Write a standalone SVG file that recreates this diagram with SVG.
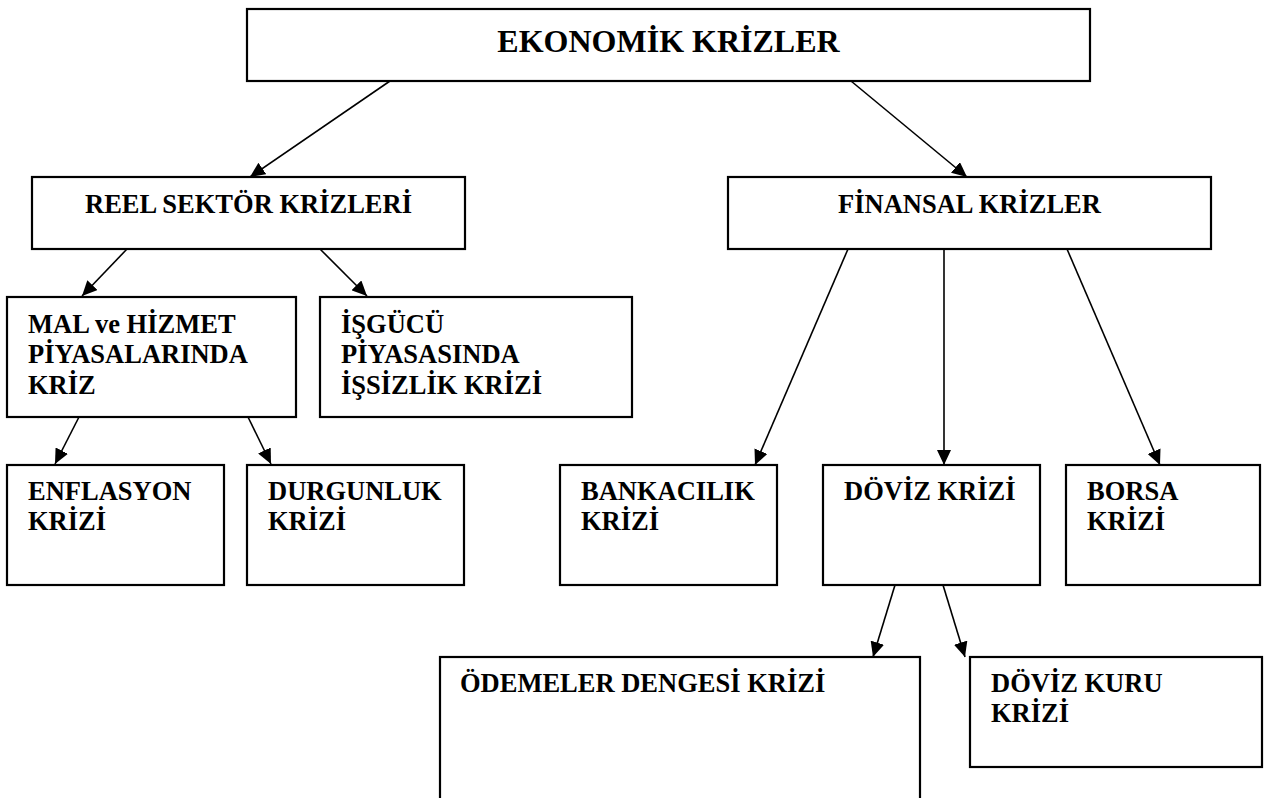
<svg xmlns="http://www.w3.org/2000/svg" width="1266" height="798" viewBox="0 0 1266 798">
<style>
.box{fill:#fff;stroke:#000;stroke-width:2.2}
.t{font-family:"Liberation Serif","Times New Roman",serif;font-weight:bold;font-size:26.5px;fill:#000}
.title{font-size:32px}
.c{fill:none;stroke:#000;stroke-width:1.6}
</style>
<defs>
<marker id="ah" markerUnits="userSpaceOnUse" markerWidth="16" markerHeight="14" refX="15" refY="7" orient="auto">
<path d="M0,0 L15,7 L0,14 z" fill="#000"/>
</marker>
</defs>
<rect width="1266" height="798" fill="#fff"/>
<g id="connectors">
<line class="c" x1="390" y1="81" x2="250" y2="177" marker-end="url(#ah)"/>
<line class="c" x1="851" y1="81" x2="967" y2="177" marker-end="url(#ah)"/>
<line class="c" x1="127" y1="249" x2="82" y2="296" marker-end="url(#ah)"/>
<line class="c" x1="320" y1="249" x2="367" y2="296" marker-end="url(#ah)"/>
<line class="c" x1="79" y1="417" x2="55" y2="464" marker-end="url(#ah)"/>
<line class="c" x1="248" y1="417" x2="271" y2="464" marker-end="url(#ah)"/>
<line class="c" x1="848" y1="249" x2="755" y2="465" marker-end="url(#ah)"/>
<line class="c" x1="944" y1="249" x2="944" y2="465" marker-end="url(#ah)"/>
<line class="c" x1="1067" y1="249" x2="1160" y2="465" marker-end="url(#ah)"/>
<line class="c" x1="895" y1="585" x2="873" y2="657" marker-end="url(#ah)"/>
<line class="c" x1="943" y1="585" x2="965" y2="657" marker-end="url(#ah)"/>
</g>
<g id="n-ekonomik">
<rect class="box" x="247" y="9" width="843" height="72"/>
<text class="t title" x="668.5" y="52" text-anchor="middle">EKONOMİK KRİZLER</text>
</g>
<g id="n-reel">
<rect class="box" x="32" y="177" width="433" height="72"/>
<text class="t" x="248.5" y="213" text-anchor="middle">REEL SEKTÖR KRİZLERİ</text>
</g>
<g id="n-finansal">
<rect class="box" x="728" y="177" width="483" height="72"/>
<text class="t" x="969.5" y="213" text-anchor="middle">FİNANSAL KRİZLER</text>
</g>
<g id="n-mal">
<rect class="box" x="7" y="297" width="289" height="120"/>
<text class="t" x="28" y="332.5">MAL ve HİZMET</text>
<text class="t" x="28" y="363">PİYASALARINDA</text>
<text class="t" x="28" y="393.5">KRİZ</text>
</g>
<g id="n-isgucu">
<rect class="box" x="320" y="297" width="312" height="120"/>
<text class="t" x="341" y="332.5">İŞGÜCÜ</text>
<text class="t" x="341" y="363">PİYASASINDA</text>
<text class="t" x="341" y="393.5">İŞSİZLİK KRİZİ</text>
</g>
<g id="n-enflasyon">
<rect class="box" x="7" y="465" width="217" height="120"/>
<text class="t" x="28" y="500">ENFLASYON</text>
<text class="t" x="28" y="530">KRİZİ</text>
</g>
<g id="n-durgunluk">
<rect class="box" x="247" y="465" width="217" height="120"/>
<text class="t" x="268" y="500">DURGUNLUK</text>
<text class="t" x="268" y="530">KRİZİ</text>
</g>
<g id="n-bankacilik">
<rect class="box" x="560" y="465" width="217" height="120"/>
<text class="t" x="581" y="500">BANKACILIK</text>
<text class="t" x="581" y="530">KRİZİ</text>
</g>
<g id="n-doviz">
<rect class="box" x="823" y="465" width="217" height="120"/>
<text class="t" x="844" y="500">DÖVİZ KRİZİ</text>
</g>
<g id="n-borsa">
<rect class="box" x="1066" y="465" width="194" height="120"/>
<text class="t" x="1087" y="500">BORSA</text>
<text class="t" x="1087" y="530">KRİZİ</text>
</g>
<g id="n-odemeler">
<rect class="box" x="440" y="657" width="480" height="160"/>
<text class="t" x="460" y="692">ÖDEMELER DENGESİ KRİZİ</text>
</g>
<g id="n-dovizkuru">
<rect class="box" x="970" y="657" width="292" height="110"/>
<text class="t" x="991" y="692">DÖVİZ KURU</text>
<text class="t" x="991" y="722">KRİZİ</text>
</g>
</svg>
